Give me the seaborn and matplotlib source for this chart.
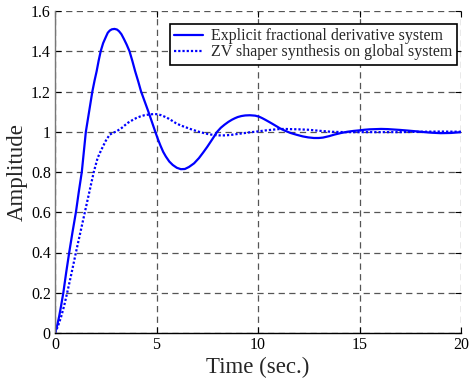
import matplotlib
matplotlib.use("Agg")
import matplotlib.pyplot as plt
import seaborn as sns
import pandas as pd

# Explicit fractional derivative system (solid)
t_explicit = [0, 0.1, 0.2, 0.3, 0.41, 0.55, 0.7, 0.86, 1.03, 1.17, 1.32, 1.42, 1.52, 1.68,
              1.84, 1.95, 2.05, 2.15, 2.25, 2.37, 2.5, 2.6, 2.7, 2.8, 2.93, 3.05, 3.15,
              3.27, 3.4, 3.53, 3.67, 3.81, 3.95, 4.1, 4.24, 4.42, 4.6, 4.77, 4.94, 5.07,
              5.2, 5.33, 5.46, 5.63, 5.8, 6.0, 6.2, 6.4, 6.6, 6.85, 7.09, 7.3, 7.5, 7.75,
              7.99, 8.17, 8.35, 8.54, 8.72, 8.86, 9.0, 9.18, 9.37, 9.6, 9.86, 10.05, 10.2,
              10.35, 10.51, 10.7, 10.9, 11.1, 11.33, 11.6, 11.9, 12.2, 12.47, 12.75, 13.0,
              13.2, 13.5, 13.77, 14.1, 14.4, 14.7, 15.0, 15.25, 15.5, 15.8, 16.06, 16.4,
              16.7, 17.0, 17.36, 17.8, 18.2, 18.6, 19.0, 19.5, 20.0]
y_explicit = [0, 0.035, 0.08, 0.135, 0.2, 0.3, 0.4, 0.5, 0.6, 0.7, 0.8, 0.9, 1.0, 1.1,
              1.2, 1.255, 1.3, 1.353, 1.4, 1.44, 1.47, 1.492, 1.503, 1.509, 1.511, 1.508, 1.5,
              1.485, 1.46, 1.433, 1.4, 1.352, 1.3, 1.25, 1.2, 1.15, 1.1, 1.05, 1.0, 0.963,
              0.93, 0.9, 0.877, 0.852, 0.835, 0.821, 0.814, 0.815, 0.825, 0.843, 0.869, 0.897,
              0.925, 0.963, 1.0, 1.02, 1.035, 1.049, 1.06, 1.067, 1.073, 1.078, 1.081, 1.082,
              1.08, 1.075, 1.068, 1.06, 1.051, 1.04, 1.028, 1.016, 1.005, 0.994, 0.985, 0.977,
              0.972, 0.969, 0.969, 0.971, 0.978, 0.986, 0.994, 1.0, 1.004, 1.007, 1.01, 1.012,
              1.013, 1.014, 1.013, 1.011, 1.009, 1.006, 1.002, 0.998, 0.995, 0.993, 0.994, 0.998]

# ZV shaper synthesis on global system (dotted)
t_zv = [0, 0.15, 0.3, 0.45, 0.6, 0.82, 1.03, 1.25, 1.47, 1.69, 1.91, 2.1, 2.28, 2.5, 2.69,
        2.85, 3.0, 3.15, 3.3, 3.45, 3.6, 3.8, 4.0, 4.2, 4.4, 4.65, 4.89, 5.05, 5.2, 5.4,
        5.6, 5.78, 5.95, 6.2, 6.5, 6.8, 7.09, 7.35, 7.6, 7.85, 8.07, 8.4, 8.72, 9.0,
        9.3, 9.58, 9.86, 10.1, 10.4, 10.7, 11.0, 11.3, 11.6, 12.0, 12.47, 13.0, 13.6,
        14.3, 15.0, 16.0, 17.0, 18.0, 19.0, 20.0]
y_zv = [0, 0.035, 0.08, 0.135, 0.2, 0.3, 0.4, 0.5, 0.6, 0.7, 0.8, 0.87, 0.91, 0.955, 0.985,
        0.995, 1.0, 1.01, 1.02, 1.033, 1.045, 1.057, 1.068, 1.076, 1.082, 1.086, 1.088, 1.087,
        1.083, 1.075, 1.065, 1.054, 1.043, 1.031, 1.02, 1.009, 1.0, 0.993, 0.987, 0.984,
        0.982, 0.982, 0.985, 0.989, 0.993, 0.997, 1.0, 1.003, 1.007, 1.01, 1.013, 1.014,
        1.013, 1.012, 1.01, 1.005, 1.0, 0.998, 0.998, 0.998, 0.998, 1.0, 1.001, 1.0]

labels = ["Explicit fractional derivative system", "ZV shaper synthesis on global system"]
x_ticks = [0, 5, 10, 15, 20]
y_ticks = [0, 0.2, 0.4, 0.6, 0.8, 1.0, 1.2, 1.4, 1.6]
y_ticklabels = ["0", "0.2", "0.4", "0.6", "0.8", "1", "1.2", "1.4", "1.6"]

sns.set_theme(style="white")
plt.rcParams["font.family"] = ["Liberation Serif", "DejaVu Serif"]

fig = plt.figure(figsize=(4.70, 3.82), dpi=100)
ax = fig.add_axes([55/470, 1 - 333/382, (461 - 55)/470, (333 - 11)/382])

df1 = pd.DataFrame({"t": t_explicit, "y": y_explicit})
df2 = pd.DataFrame({"t": t_zv, "y": y_zv})
sns.lineplot(data=df1, x="t", y="y", ax=ax, color="#0000ff", linewidth=1.6,
             label=labels[0], sort=False)
sns.lineplot(data=df2, x="t", y="y", ax=ax, color="#0000ff", linewidth=1.6,
             label=labels[1], sort=False)
ax.lines[1].set_linestyle((0, (1, 0.9)))

ax.set_xlim(0, 20)
ax.set_ylim(0, 1.6)
ax.set_xticks(x_ticks)
ax.set_xticklabels([str(v) for v in x_ticks])
ax.set_yticks(y_ticks)
ax.set_yticklabels(y_ticklabels)
ax.grid(True, color="#555555", linestyle=(0, (5, 3.5)), linewidth=0.9)
ax.set_axisbelow(True)

for s in ["top", "right"]:
    ax.spines[s].set_visible(False)
ax.spines["left"].set_color("#777777")
ax.spines["left"].set_linewidth(1.0)
ax.spines["bottom"].set_color("black")
ax.spines["bottom"].set_linewidth(1.0)

ax.tick_params(axis="both", which="both", direction="in", length=4, width=0.8,
               colors="black", labelsize=11.5, top=True, right=True,
               left=True, bottom=True, pad=3)

ax.set_xlabel("Time (sec.)", fontsize=16.5, labelpad=3)
ax.set_ylabel("Amplitude", fontsize=16.5, labelpad=2)

leg = ax.legend(loc="upper right", bbox_to_anchor=(457/470, 1 - 24/382),
                bbox_transform=fig.transFigure, borderaxespad=0, fancybox=False,
                framealpha=1, edgecolor="black", fontsize=11.5, handlelength=1.8,
                handletextpad=0.55, labelspacing=0.02, borderpad=0.26)
leg.get_frame().set_linewidth(1.2)

fig.savefig("out.png", dpi=100)
